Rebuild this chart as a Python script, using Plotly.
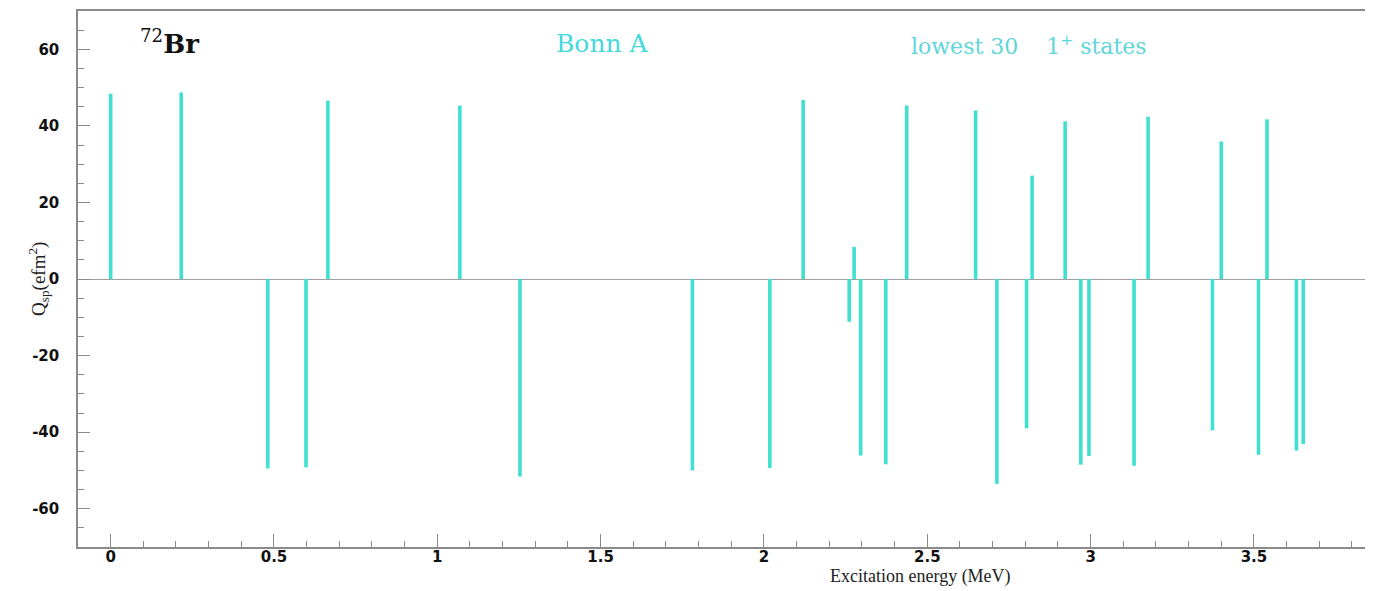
import plotly.graph_objects as go

# Spectroscopic quadrupole moments of the lowest 30 1+ states in 72Br (Bonn A)
energies = [0.000, 0.216, 0.481, 0.598, 0.665, 1.069, 1.253, 1.781, 2.018, 2.120,
            2.261, 2.276, 2.296, 2.373, 2.437, 2.648, 2.713, 2.804, 2.821, 2.922,
            2.970, 2.995, 3.133, 3.176, 3.373, 3.400, 3.514, 3.540, 3.630, 3.651]
q_sp = [48.4, 48.7, -49.5, -49.2, 46.6, 45.3, -51.6, -50.0, -49.4, 46.8,
        -11.2, 8.4, -46.1, -48.4, 45.3, 44.0, -53.5, -39.0, 27.0, 41.2,
        -48.5, -46.2, -48.8, 42.4, -39.5, 35.9, -45.9, 41.7, -44.8, -43.1]

x_tickvals = [0, 0.5, 1, 1.5, 2, 2.5, 3, 3.5]
x_ticktext = ["0", "0.5", "1", "1.5", "2", "2.5", "3", "3.5"]
y_tickvals = [-60, -40, -20, 0, 20, 40, 60]
y_ticktext = ["-60", "-40", "-20", "0", "20", "40", "60"]

BAR = "#40E0D0"
AXIS = "#8a8a8a"
SERIF = "DejaVu Serif, Liberation Serif, serif"

fig = go.Figure()
fig.add_trace(go.Bar(
    x=energies, y=q_sp, width=0.011,
    marker=dict(color=BAR, line=dict(width=0)),
    hoverinfo="x+y", showlegend=False,
))

W, H = 1375, 591
ml, mr, mt, mb = 78, 10, 9, 44
pw, ph = W - ml - mr, H - mt - mb


def px(x):
    return (x - ml) / pw


def py(y):
    return (H - mb - y) / ph


tick_font = dict(family="DejaVu Sans, Arial", size=15, color="#111", weight="bold")

fig.update_layout(
    width=W, height=H,
    margin=dict(l=ml, r=mr, t=mt, b=mb),
    paper_bgcolor="white", plot_bgcolor="white",
    barmode="overlay",
    xaxis=dict(
        range=[-0.1, 3.84],
        tickvals=x_tickvals, ticktext=x_ticktext,
        ticks="inside", ticklen=13, tickwidth=1, tickcolor=AXIS,
        minor=dict(dtick=0.1, ticks="inside", ticklen=6, tickcolor=AXIS, showgrid=False),
        showline=True, linecolor=AXIS, linewidth=1.5, mirror=True,
        showgrid=False, zeroline=False,
        tickfont=tick_font, ticklabelstandoff=-5,
    ),
    yaxis=dict(
        range=[-70, 70],
        tickvals=y_tickvals, ticktext=y_ticktext,
        ticks="inside", ticklen=12, tickwidth=1, tickcolor=AXIS,
        minor=dict(dtick=5, ticks="inside", ticklen=6, tickcolor=AXIS, showgrid=False),
        showline=True, linecolor=AXIS, linewidth=1.5,
        showgrid=False, zeroline=True, zerolinecolor="#a0a0a0", zerolinewidth=1,
        tickfont=tick_font, ticklabelstandoff=14,
    ),
    annotations=[
        dict(text="<sup>72</sup><b>Br</b>", xref="paper", yref="paper",
             x=px(138), y=py(40), xanchor="left", yanchor="middle", showarrow=False,
             font=dict(family=SERIF, size=26, color="#111")),
        dict(text="Bonn A", xref="paper", yref="paper",
             x=px(554), y=py(42), xanchor="left", yanchor="middle", showarrow=False,
             font=dict(family=SERIF, size=25, color="#45D8DC")),
        dict(text="lowest 30 &nbsp;&nbsp; 1<sup>+</sup> states", xref="paper", yref="paper",
             x=px(909), y=py(43), xanchor="left", yanchor="middle", showarrow=False,
             font=dict(family=SERIF, size=22, color="#5ED6DA")),
        dict(text="Excitation energy (MeV)", xref="paper", yref="paper",
             x=px(920), y=py(577), xanchor="center", yanchor="middle", showarrow=False,
             font=dict(family="Liberation Serif, Times New Roman", size=18, color="#222")),
        dict(text="Q<sub>sp</sub>(efm<sup>2</sup>)", xref="paper", yref="paper",
             x=px(38), y=py(278), xanchor="center", yanchor="middle", showarrow=False,
             textangle=-90,
             font=dict(family="Liberation Serif, Times New Roman", size=19, color="#222")),
    ],
)

fig.write_html("out.html")
